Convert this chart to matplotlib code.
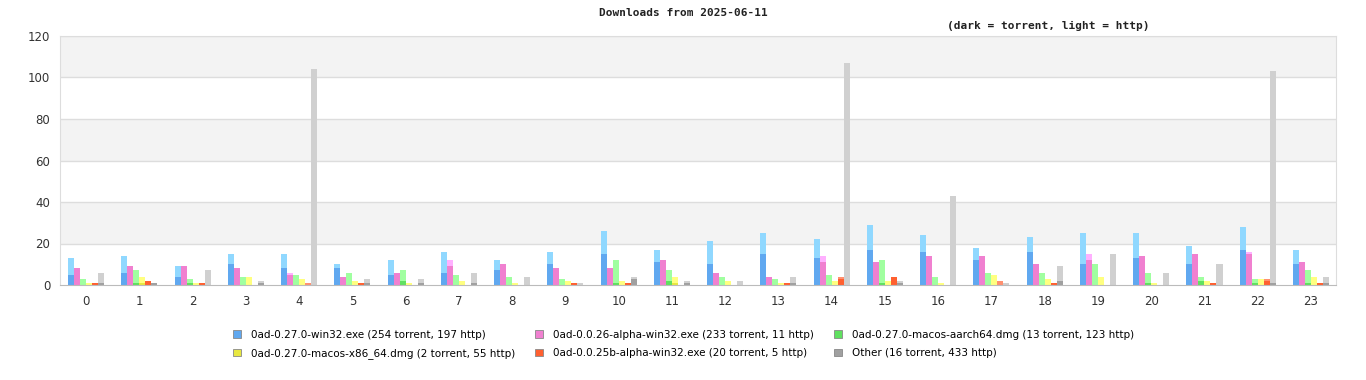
import numpy as np
import matplotlib
matplotlib.use("Agg")
import matplotlib.pyplot as plt
from matplotlib.patches import Patch

hours = list(range(24))

# total downloads per hour, and torrent part (rest is http)
win32_total = [13, 14, 9, 15, 15, 10, 12, 16, 12, 16, 26, 17, 21, 25, 22, 29, 24, 18, 23, 25, 25, 19, 28, 17]
win32_torrent = [5, 6, 4, 10, 8, 8, 5, 6, 7, 10, 15, 11, 10, 15, 13, 17, 16, 12, 16, 10, 13, 10, 17, 10]

a26_total = [8, 9, 9, 8, 6, 4, 6, 12, 10, 8, 8, 12, 6, 4, 14, 11, 14, 14, 10, 15, 14, 15, 16, 11]
a26_http = [0, 0, 0, 0, 1, 0, 0, 3, 0, 0, 0, 0, 0, 0, 3, 0, 0, 0, 0, 3, 0, 0, 1, 0]

arm_total = [3, 7, 3, 4, 5, 6, 7, 5, 4, 3, 12, 7, 4, 3, 5, 12, 4, 6, 6, 10, 6, 4, 3, 7]
arm_torrent = [0, 1, 1, 0, 0, 0, 2, 0, 0, 0, 1, 2, 0, 0, 0, 1, 0, 0, 0, 0, 1, 2, 1, 1]

x86_total = [1, 4, 1, 4, 3, 2, 1, 2, 1, 2, 2, 4, 2, 1, 2, 2, 1, 5, 3, 4, 1, 2, 3, 4]
x86_torrent = [0, 1, 0, 0, 0, 0, 0, 0, 0, 0, 0, 1, 0, 0, 0, 0, 0, 0, 0, 0, 0, 0, 0, 0]

a25_total = [1, 2, 1, 0, 1, 1, 0, 0, 0, 1, 1, 0, 0, 1, 4, 4, 0, 2, 1, 0, 0, 1, 3, 1]
a25_http = [0, 0, 0, 0, 1, 0, 0, 0, 0, 0, 0, 0, 0, 0, 1, 0, 0, 2, 0, 0, 0, 0, 1, 0]

other_total = [6, 1, 7, 2, 104, 3, 3, 6, 4, 1, 4, 2, 2, 4, 107, 2, 43, 1, 9, 15, 6, 10, 103, 4]
other_torrent = [1, 1, 0, 1, 0, 1, 1, 1, 0, 0, 3, 1, 0, 1, 0, 1, 0, 0, 2, 0, 0, 0, 1, 1]

labels = ["0ad-0.27.0-win32.exe (254 torrent, 197 http)",
          "0ad-0.0.26-alpha-win32.exe (233 torrent, 11 http)",
          "0ad-0.27.0-macos-aarch64.dmg (13 torrent, 123 http)",
          "0ad-0.27.0-macos-x86_64.dmg (2 torrent, 55 http)",
          "0ad-0.0.25b-alpha-win32.exe (20 torrent, 5 http)",
          "Other (16 torrent, 433 http)"]

dark = ["#60a8f0", "#f080d0", "#60e060", "#e8e840", "#ff6030", "#a0a0a0"]
light = ["#90d8ff", "#ffb0ff", "#a0ffa0", "#ffff80", "#ff9070", "#d0d0d0"]

torrent = [np.array(win32_torrent),
           np.array(a26_total) - np.array(a26_http),
           np.array(arm_torrent),
           np.array(x86_torrent),
           np.array(a25_total) - np.array(a25_http),
           np.array(other_torrent)]
totals = [win32_total, a26_total, arm_total, x86_total, a25_total, other_total]
http = [np.array(t) - tor for t, tor in zip(totals, torrent)]

fig = plt.figure(figsize=(13.66, 3.8), dpi=100)
ax = fig.add_axes([60 / 1366, 1 - 285 / 380, 1276 / 1366, 249 / 380])

# alternating background bands
for lo in (20, 60, 100):
    ax.axhspan(lo, lo + 20, color="#f3f3f3", zorder=0, lw=0)
for y in range(20, 121, 20):
    ax.axhline(y, color="#dddddd", lw=1, zorder=0.5)

x = np.arange(24)
w = 0.113
for i in range(6):
    pos = x + (i - 2.5) * w
    ax.bar(pos, torrent[i], width=w, color=dark[i], lw=0, zorder=2)
    ax.bar(pos, http[i], width=w, bottom=torrent[i], color=light[i], lw=0, zorder=2)

ax.set_xlim(-0.49, 23.47)
ax.set_ylim(0, 120)
ax.set_yticks(range(0, 121, 20))
ax.set_xticks(x)
ax.set_xticklabels([str(h) for h in hours])
ax.tick_params(length=0, labelsize=8.5, colors="#333333", pad=7)
for s in ax.spines.values():
    s.set_color("#dddddd")
ax.spines["bottom"].set_color("#bbbbbb")

fig.text(0.5, 1 - 13 / 380, "Downloads from 2025-06-11", ha="center", va="center",
         family="DejaVu Sans Mono", fontweight="bold", fontsize=8, color="#222222")
fig.text(1048 / 1366, 1 - 26 / 380, "(dark = torrent, light = http)", ha="center", va="center",
         family="DejaVu Sans Mono", fontweight="bold", fontsize=8, color="#222222")

handles = [Patch(facecolor=c, edgecolor="#888888", lw=0.6) for c in dark]
order = [0, 3, 1, 4, 2, 5]
fig.legend([handles[k] for k in order], [labels[k] for k in order], ncol=3,
           loc="center", bbox_to_anchor=(683.5 / 1366, 1 - 344.5 / 380), frameon=False,
           prop={"size": 7.5}, handlelength=0.77, handleheight=0.77,
           columnspacing=1.92, handletextpad=0.96, labelspacing=0.8,
           borderpad=0, borderaxespad=0)

fig.savefig("out.png", dpi=100)
